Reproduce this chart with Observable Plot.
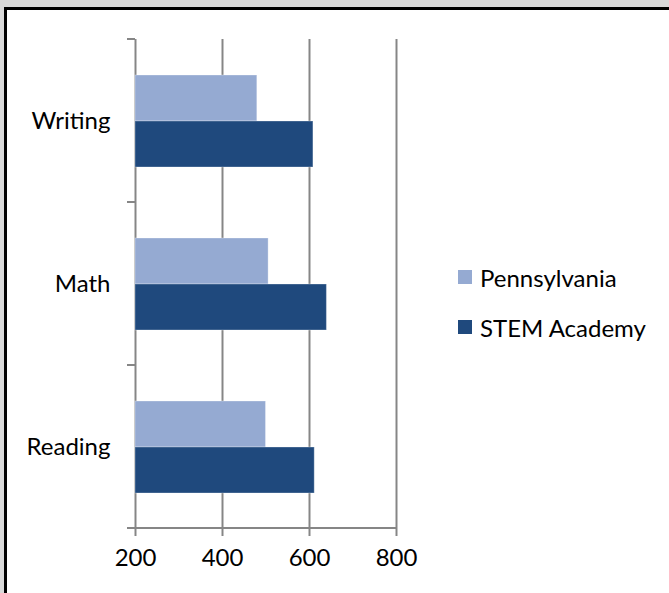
<!DOCTYPE html>
<html>
<head>
<meta charset="utf-8">
<script src="https://cdn.jsdelivr.net/npm/d3@7"></script>
<script src="https://cdn.jsdelivr.net/npm/@observablehq/plot@0.6"></script>
<style>
  html, body { margin: 0; padding: 0; }
  body { width: 669px; height: 593px; background: #d9d9d9; position: relative; overflow: hidden; font-family: Lato, "Open Sans", sans-serif; }
  #frame { position: absolute; left: 4px; top: 7px; width: 720px; height: 650px; border: 3px solid #000; background: #fff; }
  #chart { position: absolute; left: 0; top: 0; }
  #legend { position: absolute; left: 458px; top: 263px; font-size: 24px; color: #000; }
  .row { display: flex; align-items: center; height: 28px; margin-bottom: 22px; }
  .sw { width: 14px; height: 14px; margin-right: 8px; }
</style>
</head>
<body>
<div id="frame"></div>
<div id="chart"></div>
<div id="legend"></div>
<script>
const categories = ["Writing", "Math", "Reading"];
const series = ["Pennsylvania", "STEM Academy"];
const pennsylvania = [480, 506, 500];
const stemAcademy = [609, 640, 612];
const xTicks = [200, 400, 600, 800];
const xDomain = [200, 800];
const colors = ["#95aad2", "#1f497d"];

const data = [];
categories.forEach((c, i) => {
  data.push({category: c, series: series[0], value: pennsylvania[i]});
  data.push({category: c, series: series[1], value: stemAcademy[i]});
});

const gridColor = "#868686";

const plot = Plot.plot({
  width: 669,
  height: 593,
  marginLeft: 135,
  marginRight: 273,
  marginTop: 38,
  marginBottom: 64,
  style: {background: "transparent", fontFamily: "Lato, 'Open Sans', sans-serif", fontSize: "24px", color: "#000"},
  x: {domain: xDomain},
  fy: {domain: categories, padding: 0},
  y: {domain: series, paddingInner: 0, paddingOuter: 0.763, axis: null},
  color: {domain: series, range: colors},
  marks: [
    Plot.ruleX(xTicks, {stroke: gridColor, strokeWidth: 2}),
    Plot.barX(data, {fy: "category", y: "series", x1: xDomain[0], x2: "value", fill: "series", stroke: "#ffffff", strokeOpacity: 0.3, strokeWidth: 1}),
    Plot.axisX(xTicks, {anchor: "bottom", tickSize: 8, tickPadding: 12, stroke: gridColor, strokeWidth: 2, fontSize: 24, tickFormat: d => String(d), label: null}),
    Plot.axisFy({anchor: "left", tickSize: 0, tickPadding: 25, label: null, fontSize: 24})
  ]
});

// boundary ticks and baseline drawn from the plot's own scales
const x = plot.scale("x");
const fy = plot.scale("fy");
const bounds = categories.map(c => fy.apply(c));
bounds.push(fy.apply(categories[categories.length - 1]) + fy.bandwidth);
const g = d3.select(plot).append("g").attr("stroke", gridColor).attr("stroke-width", 2);
const x0 = x.apply(xDomain[0]);
bounds.forEach(b => {
  g.append("line").attr("x1", x0 - 8).attr("x2", x0).attr("y1", b).attr("y2", b);
});
const yb = bounds[bounds.length - 1];
g.append("line").attr("x1", x0 - 8).attr("x2", x.apply(xDomain[1]) + 1).attr("y1", yb).attr("y2", yb);

document.getElementById("chart").appendChild(plot);

const legend = document.getElementById("legend");
series.forEach((s, i) => {
  const row = document.createElement("div");
  row.className = "row";
  const sw = document.createElement("div");
  sw.className = "sw";
  sw.style.background = colors[i];
  const t = document.createElement("span");
  t.textContent = s;
  row.appendChild(sw);
  row.appendChild(t);
  legend.appendChild(row);
});
</script>
</body>
</html>
